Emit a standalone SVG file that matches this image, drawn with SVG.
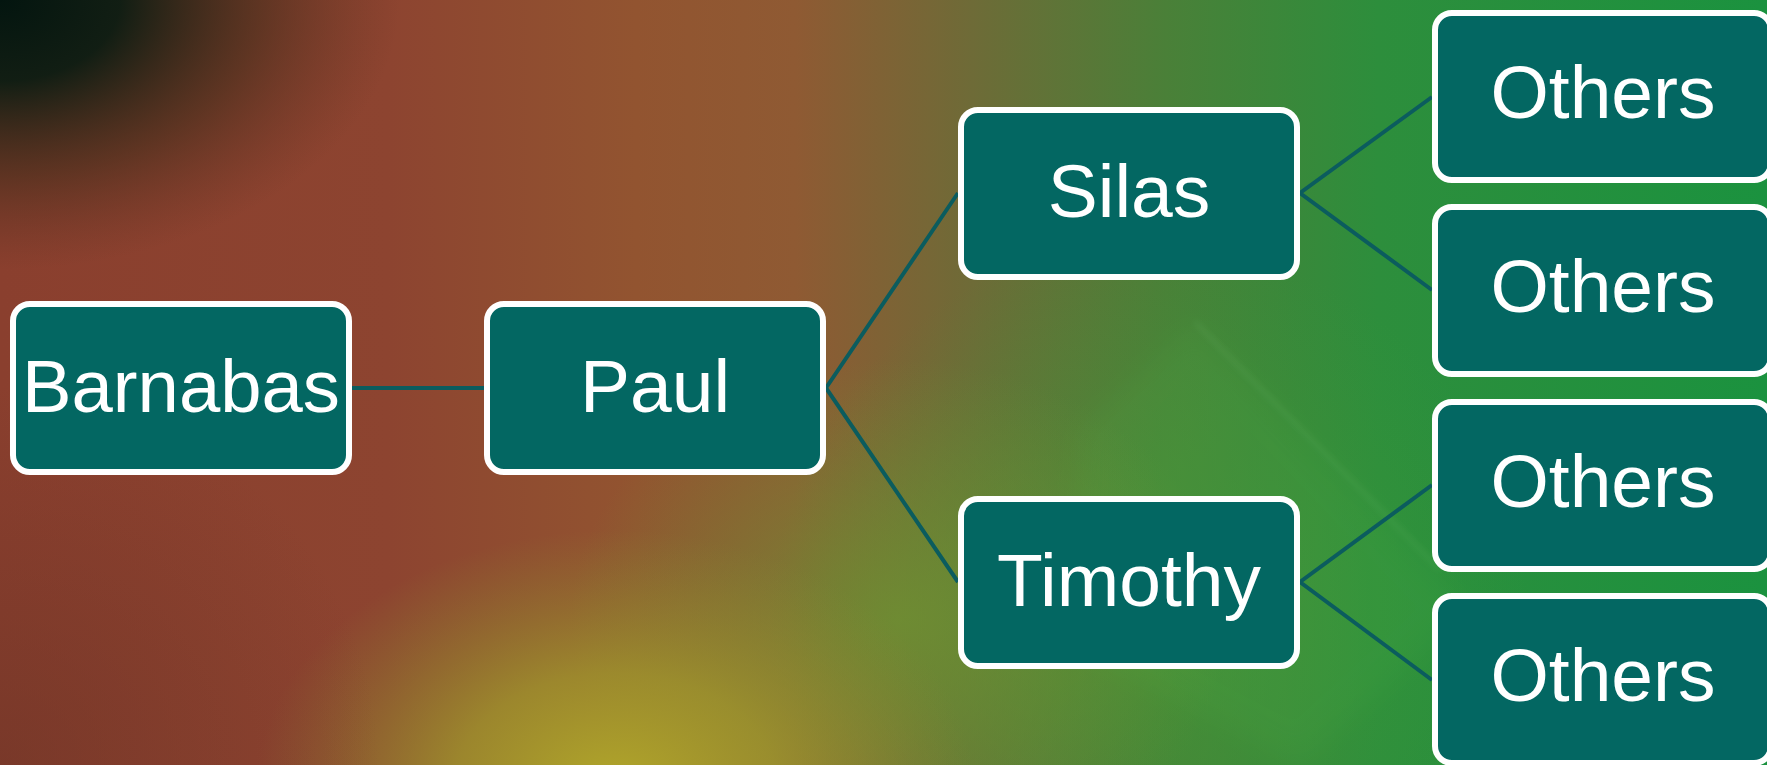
<svg xmlns="http://www.w3.org/2000/svg" width="1767" height="765" viewBox="0 0 1767 765">
<defs>
<linearGradient id="bg" x1="0" y1="0" x2="1" y2="0">
<stop offset="0" stop-color="#8a3f2e"/>
<stop offset="0.22" stop-color="#8d4430"/>
<stop offset="0.36" stop-color="#925430"/>
<stop offset="0.45" stop-color="#8f5a33"/>
<stop offset="0.55" stop-color="#6e6b37"/>
<stop offset="0.66" stop-color="#4a8038"/>
<stop offset="0.78" stop-color="#2d8e3c"/>
<stop offset="1" stop-color="#1b923f"/>
</linearGradient>
<radialGradient id="yel" cx="0" cy="0" r="1" gradientUnits="userSpaceOnUse" gradientTransform="translate(615 790) scale(360 260)">
<stop offset="0" stop-color="#b2a82a" stop-opacity="1"/>
<stop offset="0.45" stop-color="#a09a2c" stop-opacity="0.75"/>
<stop offset="1" stop-color="#8a8a30" stop-opacity="0"/>
</radialGradient>
<radialGradient id="olv" cx="0" cy="0" r="1" gradientUnits="userSpaceOnUse" gradientTransform="translate(900 620) scale(330 260)">
<stop offset="0" stop-color="#6e9232" stop-opacity="0.8"/>
<stop offset="1" stop-color="#6e9232" stop-opacity="0"/>
</radialGradient>
<radialGradient id="grn" cx="1150" cy="620" r="380" gradientUnits="userSpaceOnUse">
<stop offset="0" stop-color="#3f9a36" stop-opacity="0.6"/>
<stop offset="1" stop-color="#3f9a36" stop-opacity="0"/>
</radialGradient>
<radialGradient id="dark" cx="0" cy="0" r="1" gradientUnits="userSpaceOnUse" gradientTransform="translate(0 0) scale(400 270)">
<stop offset="0" stop-color="#03150f" stop-opacity="1"/>
<stop offset="0.3" stop-color="#0b1c12" stop-opacity="0.95"/>
<stop offset="0.65" stop-color="#3a2a18" stop-opacity="0.55"/>
<stop offset="1" stop-color="#5a3020" stop-opacity="0"/>
</radialGradient>
<radialGradient id="botl" cx="0" cy="765" r="380" gradientUnits="userSpaceOnUse">
<stop offset="0" stop-color="#6e3426" stop-opacity="0.6"/>
<stop offset="1" stop-color="#6e3426" stop-opacity="0"/>
</radialGradient>
<filter id="soft" x="-20%" y="-20%" width="140%" height="140%">
<feGaussianBlur stdDeviation="14"/>
</filter>
<filter id="soft2" x="-20%" y="-20%" width="140%" height="140%">
<feGaussianBlur stdDeviation="3"/>
</filter>
<style>
.box{fill:#036762;stroke:#ffffff;stroke-width:6}
.lbl{font-family:"Liberation Sans",Arial,sans-serif;font-size:75px;fill:#ffffff;text-anchor:middle}
.con{stroke:#0b5c5e;stroke-width:4;fill:none}
</style>
</defs>
<g id="background">
<rect x="0" y="0" width="1767" height="765" fill="url(#bg)"/>
<rect x="0" y="0" width="1767" height="765" fill="url(#grn)"/>
<rect x="0" y="0" width="1767" height="765" fill="url(#olv)"/>
<rect x="0" y="0" width="1767" height="765" fill="url(#yel)"/>
<rect x="0" y="0" width="1767" height="765" fill="url(#botl)"/>
<rect x="0" y="0" width="1767" height="765" fill="url(#dark)"/>
<polygon points="1195,322 1470,610 1300,765 1060,640 1080,430" fill="#5cc050" opacity="0.09" filter="url(#soft)"/>
<line x1="1195" y1="322" x2="1440" y2="570" stroke="#80c880" stroke-width="3" opacity="0.2" filter="url(#soft2)"/>
</g>
<g id="connectors">
<line class="con" x1="352" y1="388" x2="484" y2="388"/>
<polyline class="con" points="958,193 826,388 958,582"/>
<polyline class="con" points="1432,97 1300,193 1432,290"/>
<polyline class="con" points="1432,485 1300,582 1432,680"/>
</g>
<g id="node-barnabas">
<rect class="box" x="13" y="304" width="336" height="168" rx="17"/>
<text class="lbl" x="181" y="412" textLength="318" lengthAdjust="spacingAndGlyphs">Barnabas</text>
</g>
<g id="node-paul">
<rect class="box" x="487" y="304" width="336" height="168" rx="17"/>
<text class="lbl" x="655" y="412">Paul</text>
</g>
<g id="node-silas">
<rect class="box" x="961" y="110" width="336" height="167" rx="17"/>
<text class="lbl" x="1129" y="217">Silas</text>
</g>
<g id="node-timothy">
<rect class="box" x="961" y="499" width="336" height="167" rx="17"/>
<text class="lbl" x="1129" y="606">Timothy</text>
</g>
<g id="node-others1">
<rect class="box" x="1435" y="13" width="336" height="167" rx="17"/>
<text class="lbl" x="1603" y="118">Others</text>
</g>
<g id="node-others2">
<rect class="box" x="1435" y="207" width="336" height="167" rx="17"/>
<text class="lbl" x="1603" y="312">Others</text>
</g>
<g id="node-others3">
<rect class="box" x="1435" y="402" width="336" height="167" rx="17"/>
<text class="lbl" x="1603" y="507">Others</text>
</g>
<g id="node-others4">
<rect class="box" x="1435" y="596" width="336" height="167" rx="17"/>
<text class="lbl" x="1603" y="701">Others</text>
</g>
</svg>
